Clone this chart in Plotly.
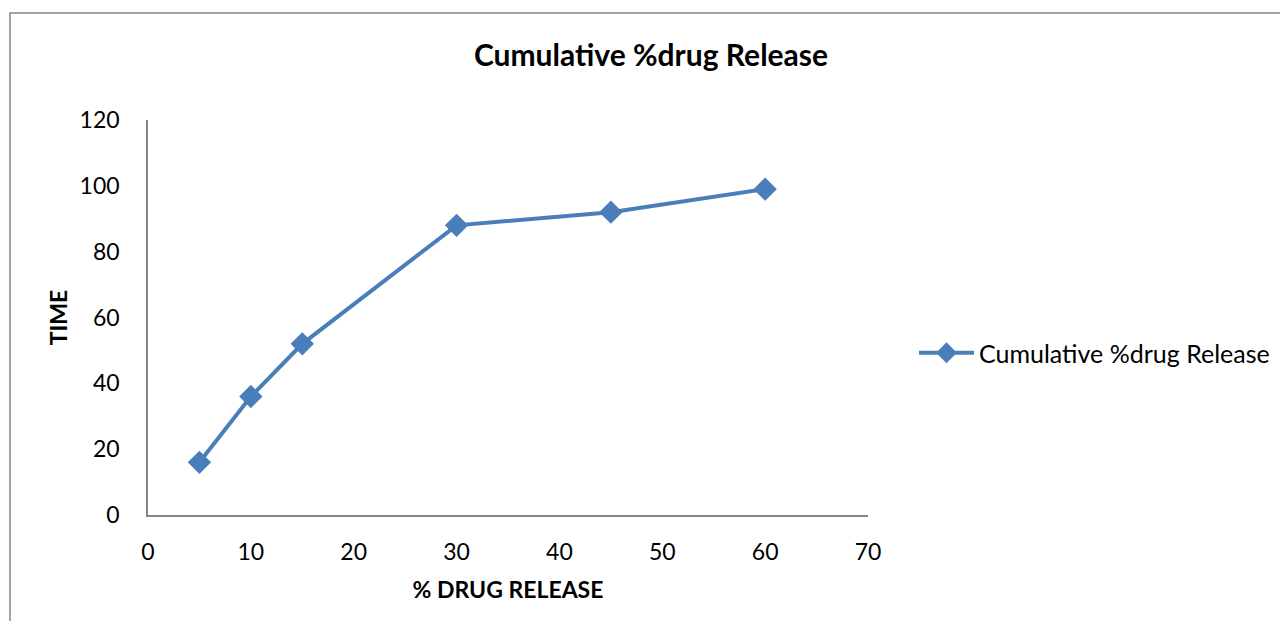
import plotly.graph_objects as go

# Dissolution data
time_points = [5, 10, 15, 30, 45, 60]
cumulative_release = [16, 36, 52, 88, 92, 99]

series_name = "Cumulative %drug Release"
x_ticks = [0, 10, 20, 30, 40, 50, 60, 70]
y_ticks = [0, 20, 40, 60, 80, 100, 120]

FONT = "Lato, 'Open Sans', sans-serif"
BLUE = "#4A7EBB"
GRAY = "#868686"

# plot-area geometry in pixels
W, H = 1280, 621
L, R, T, B = 148, 412, 120, 106
pw, ph = W - L - R, H - T - B


def px_x(px):
    return (px - L) / pw


def px_y(py):
    return (H - B - py) / ph


fig = go.Figure()
fig.add_trace(go.Scatter(
    x=time_points,
    y=cumulative_release,
    mode="lines+markers",
    name=series_name,
    line=dict(color=BLUE, width=4),
    marker=dict(symbol="diamond", size=18, color=BLUE),
))

fig.update_layout(
    width=W,
    height=H,
    margin=dict(l=L, r=R, t=T, b=B, autoexpand=False),
    paper_bgcolor="white",
    plot_bgcolor="white",
    font=dict(family=FONT, size=23, color="black"),
    title=dict(
        text="<b>Cumulative %drug Release</b>",
        x=px_x(651), xref="paper", xanchor="center",
        y=1 - 55 / H, yanchor="middle",
        font=dict(size=30, family=FONT),
    ),
    showlegend=True,
    legend=dict(
        x=px_x(914), xanchor="left",
        y=px_y(353), yanchor="middle",
        font=dict(size=25, family=FONT),
        bgcolor="rgba(0,0,0,0)",
        itemwidth=55,
    ),
    xaxis=dict(
        range=[0, 70],
        tickvals=x_ticks,
        showgrid=False,
        zeroline=False,
        showline=True,
        linecolor=GRAY,
        linewidth=1.5,
        ticks="",
        ticklabelstandoff=16,
        title=dict(text="<b>% DRUG RELEASE</b>", font=dict(size=23), standoff=18),
    ),
    yaxis=dict(
        range=[0, 120],
        tickvals=y_ticks,
        showgrid=False,
        zeroline=False,
        showline=True,
        linecolor=GRAY,
        linewidth=1.5,
        ticks="",
        ticklabelstandoff=22,
        title=dict(text="<b>TIME</b>", font=dict(size=23), standoff=6),
    ),
    shapes=[
        dict(
            type="rect", xref="paper", yref="paper",
            x0=px_x(10), x1=px_x(1300),
            y0=px_y(640), y1=px_y(13),
            line=dict(color=GRAY, width=1.5),
            fillcolor="rgba(0,0,0,0)",
            layer="below",
        )
    ],
)

fig.write_html("out.html")
